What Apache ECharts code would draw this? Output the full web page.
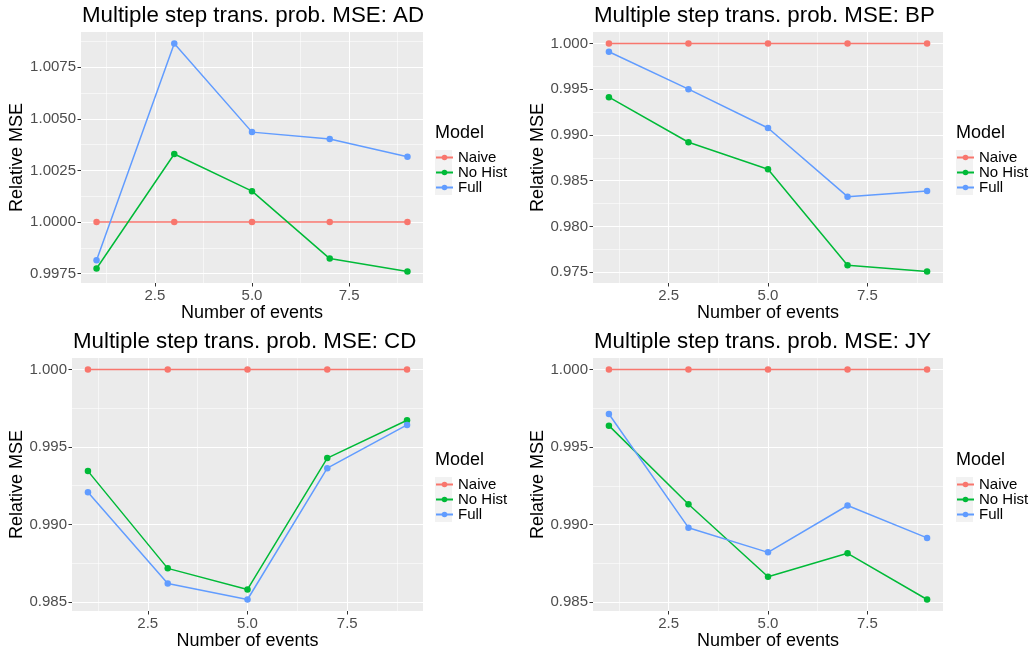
<!DOCTYPE html>
<html><head><meta charset="utf-8">
<script src="https://cdn.jsdelivr.net/npm/echarts@6/dist/echarts.min.js"></script>
<style>html,body{margin:0;padding:0;background:#fff}#c{width:1033px;height:653px}</style>
</head><body><div id="c"></div>
<script>
// ---------- data ----------
const xEvents = [1, 3, 5, 7, 9];
const modelNames = ['Naive', 'No Hist', 'Full'];
const xTicks = [2.5, 5.0, 7.5];

const AD_naive  = [1, 1, 1, 1, 1];
const AD_noHist = [0.99775, 1.00330, 1.00150, 0.99823, 0.99760];
const AD_full   = [0.99815, 1.00866, 1.00436, 1.00403, 1.00317];
const AD_yTicks = [0.9975, 1.0000, 1.0025, 1.0050, 1.0075];

const BP_naive  = [1, 1, 1, 1, 1];
const BP_noHist = [0.99413, 0.98920, 0.98626, 0.97576, 0.97507];
const BP_full   = [0.99909, 0.99500, 0.99076, 0.98326, 0.98387];
const BP_yTicks = [0.975, 0.980, 0.985, 0.990, 0.995, 1.000];

const CD_naive  = [1, 1, 1, 1, 1];
const CD_noHist = [0.99344, 0.98716, 0.98580, 0.99428, 0.99672];
const CD_full   = [0.99208, 0.98619, 0.98515, 0.99363, 0.99642];
const CD_yTicks = [0.985, 0.990, 0.995, 1.000];

const JY_naive  = [1, 1, 1, 1, 1];
const JY_noHist = [0.99638, 0.99131, 0.98664, 0.98815, 0.98517];
const JY_full   = [0.99713, 0.98980, 0.98821, 0.99123, 0.98914];
const JY_yTicks = [0.985, 0.990, 0.995, 1.000];

// ---------- layout / style ----------
const FONT = "'Liberation Sans', Arial, sans-serif";
const colors = ['#F8766D', '#00BA38', '#619CFF'];
const panels = [
  {code:'AD', series:[AD_naive, AD_noHist, AD_full], yTicks:AD_yTicks, dec:4, nameGap:52,
   grid:{left:81, top:32, width:342, height:251}, titleLeft:82, titleTop:5, legLeft:435, legTop:124},
  {code:'BP', series:[BP_naive, BP_noHist, BP_full], yTicks:BP_yTicks, dec:3, nameGap:42,
   grid:{left:593, top:32, width:350, height:251}, titleLeft:594, titleTop:5, legLeft:956, legTop:124},
  {code:'CD', series:[CD_naive, CD_noHist, CD_full], yTicks:CD_yTicks, dec:3, nameGap:43,
   grid:{left:72, top:358, width:351, height:253}, titleLeft:73, titleTop:331, legLeft:435, legTop:451},
  {code:'JY', series:[JY_naive, JY_noHist, JY_full], yTicks:JY_yTicks, dec:3, nameGap:42,
   grid:{left:593, top:358, width:350, height:253}, titleLeft:594, titleTop:331, legLeft:956, legTop:451}
];

function expand(vals){ // ggplot default 5% expansion
  const mn = Math.min(...vals), mx = Math.max(...vals), d = (mx - mn) * 0.05;
  return [mn - d, mx + d];
}
function minors(ticks, lo, hi){
  const step = ticks[1] - ticks[0];
  const out = [];
  const ext = [ticks[0] - step].concat(ticks, [ticks[ticks.length-1] + step]);
  for (let i = 0; i < ext.length - 1; i++){
    const m = (ext[i] + ext[i+1]) / 2;
    if (m >= lo && m <= hi) out.push(m);
  }
  return out;
}

const option = {
  animation:false, backgroundColor:'#ffffff',
  title:[], grid:[], xAxis:[], yAxis:[], series:[], legend:[], graphic:[]
};

const xr = expand(xEvents);
panels.forEach((p, i) => {
  const all = [].concat(...p.series);
  const yr = expand(all);
  option.title.push({text:'Multiple step trans. prob. MSE: ' + p.code, left:p.titleLeft, top:p.titleTop, padding:0,
    textStyle:{fontFamily:FONT, fontSize:22.3, fontWeight:'normal', color:'#000'}});
  option.title.push({text:'Model', left:p.legLeft, top:p.legTop, padding:0,
    textStyle:{fontFamily:FONT, fontSize:18, fontWeight:'normal', color:'#000'}});
  option.grid.push(Object.assign({show:true, backgroundColor:'#EBEBEB', borderWidth:0}, p.grid));
  const xm = minors(xTicks, xr[0], xr[1]);
  // minor x axis
  option.xAxis.push({type:'value', gridIndex:i, min:xr[0], max:xr[1], position:'bottom',
    axisLine:{show:false}, axisTick:{show:false, customValues:xm},
    axisLabel:{show:false, customValues:xm},
    splitLine:{show:true, lineStyle:{color:'#ffffff', width:0.55}}, z:0});
  // major x axis
  option.xAxis.push({type:'value', gridIndex:i, min:xr[0], max:xr[1], position:'bottom',
    name:'Number of events', nameLocation:'middle', nameGap:20,
    nameTextStyle:{fontFamily:FONT, fontSize:18, color:'#000'},
    axisLine:{show:false},
    axisTick:{show:true, length:3.5, customValues:xTicks, lineStyle:{color:'#333333', width:1}},
    axisLabel:{customValues:xTicks, margin:5, fontFamily:FONT, fontSize:15, color:'#4D4D4D',
      formatter:v => v.toFixed(1)},
    splitLine:{show:true, lineStyle:{color:'#ffffff', width:1.1}}, z:1});
  const ym = minors(p.yTicks, yr[0], yr[1]);
  option.yAxis.push({type:'value', gridIndex:i, min:yr[0], max:yr[1], position:'left',
    axisLine:{show:false}, axisTick:{show:false, customValues:ym},
    axisLabel:{show:false, customValues:ym},
    splitLine:{show:true, lineStyle:{color:'#ffffff', width:0.55}}, z:0});
  // major y axis
  option.yAxis.push({type:'value', gridIndex:i, min:yr[0], max:yr[1], position:'left',
    name:'Relative MSE', nameLocation:'middle', nameGap:p.nameGap,
    nameTextStyle:{fontFamily:FONT, fontSize:18, color:'#000'},
    axisLine:{show:false},
    axisTick:{show:true, length:3.5, customValues:p.yTicks, lineStyle:{color:'#333333', width:1}},
    axisLabel:{customValues:p.yTicks, margin:5, fontFamily:FONT, fontSize:15, color:'#4D4D4D',
      formatter:v => v.toFixed(p.dec)},
    splitLine:{show:true, lineStyle:{color:'#ffffff', width:1.1}}, z:1});
  p.series.forEach((vals, k) => {
    option.series.push({type:'line', name:modelNames[k], xAxisIndex:2*i+1, yAxisIndex:2*i+1,
      data:xEvents.map((x, j) => [x, vals[j]]),
      symbol:'circle', symbolSize:6.5, showSymbol:true,
      itemStyle:{color:colors[k]}, lineStyle:{color:colors[k], width:1.5},
      emphasis:{disabled:true}, z:3+k});
  });
  option.graphic.push({type:'rect', left:p.legLeft, top:p.legTop + 26, z:-1,
    shape:{width:17, height:45}, style:{fill:'#F2F2F2'}});
  option.legend.push({orient:'vertical', left:p.legLeft, top:p.legTop + 26, padding:0,
    data:modelNames, itemWidth:17, itemHeight:7, itemGap:0, selectedMode:false,
    textStyle:{fontFamily:FONT, fontSize:15, color:'#000', lineHeight:15, height:15}});
});

const chart = echarts.init(document.getElementById('c'), null, {renderer:'canvas'});
chart.setOption(option);
</script></body></html>
